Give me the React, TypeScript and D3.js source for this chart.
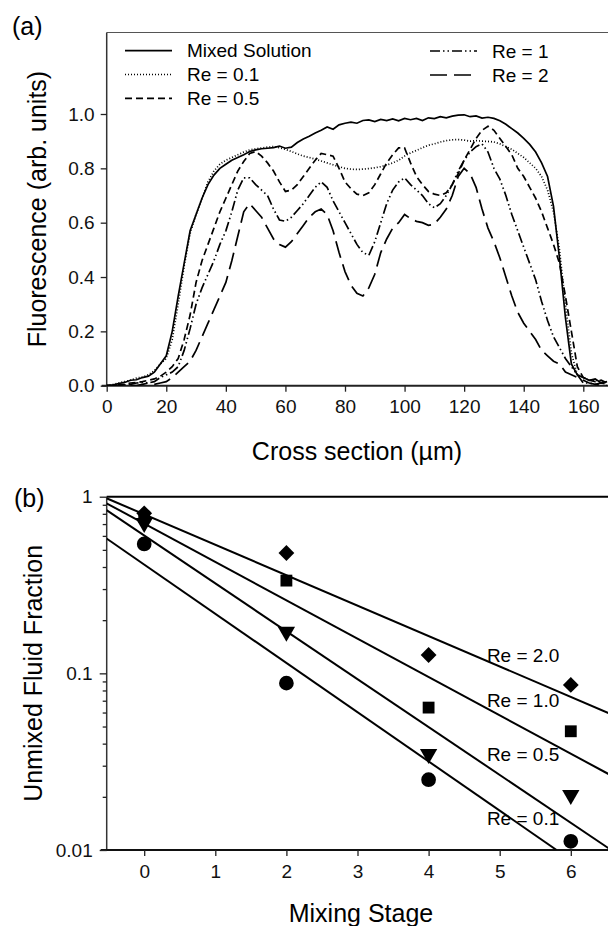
import React, { useEffect, useRef } from 'react';
import * as d3 from 'd3';

// ---- panel (a): fluorescence profiles, sampled every 2 um ----
const crossX = d3.range(0, 170, 2);

const mixedSolution = [
  0, 0.002, 0.008, 0.012, 0.02, 0.022, 0.03, 0.035, 0.05, 0.08,
  0.11, 0.2, 0.33, 0.45, 0.57, 0.63, 0.69, 0.74, 0.775, 0.8,
  0.815, 0.83, 0.84, 0.85, 0.862, 0.868, 0.872, 0.874, 0.876, 0.882,
  0.874, 0.878, 0.895, 0.908, 0.918, 0.93, 0.94, 0.952, 0.944, 0.96,
  0.966, 0.97, 0.966, 0.976, 0.978, 0.972, 0.98, 0.976, 0.982, 0.975,
  0.984, 0.979, 0.984, 0.976, 0.986, 0.983, 0.99, 0.986, 0.992, 0.996,
  0.997, 0.99, 0.993, 0.985, 0.988, 0.984, 0.975, 0.962, 0.946, 0.93,
  0.91, 0.888, 0.86, 0.82, 0.77, 0.66, 0.47, 0.25, 0.08, 0.04,
  0.03, 0.02, 0.025, 0.01, 0.015,
];
const re01 = [
  0, 0.004, 0.01, 0.015, 0.02, 0.028, 0.032, 0.04, 0.055, 0.08,
  0.1, 0.17, 0.3, 0.44, 0.56, 0.63, 0.69, 0.75, 0.79, 0.815,
  0.83, 0.84, 0.85, 0.86, 0.868, 0.872, 0.875, 0.878, 0.88, 0.876,
  0.87, 0.862, 0.853, 0.845, 0.84, 0.834, 0.827, 0.82, 0.813, 0.806,
  0.8, 0.797, 0.796, 0.797, 0.799, 0.802, 0.806, 0.812, 0.82, 0.83,
  0.845, 0.857, 0.866, 0.876, 0.885, 0.89, 0.897, 0.902, 0.905, 0.906,
  0.904, 0.9, 0.902, 0.9, 0.899, 0.897, 0.89, 0.88, 0.87, 0.855,
  0.84, 0.82, 0.8, 0.77, 0.72, 0.64, 0.5, 0.3, 0.12, 0.04,
  0.03, 0.02, 0.02, 0.015, 0.01,
];
const re05 = [
  0, 0, 0.003, 0.005, 0.01, 0.012, 0.015, 0.02, 0.025, 0.035,
  0.05, 0.07, 0.1, 0.17, 0.26, 0.38, 0.46, 0.52, 0.58, 0.64,
  0.69, 0.74, 0.79, 0.825, 0.855, 0.862, 0.845, 0.82, 0.79, 0.75,
  0.715, 0.72, 0.74, 0.77, 0.8, 0.83, 0.855, 0.85, 0.845, 0.8,
  0.75, 0.725, 0.705, 0.7, 0.71, 0.74, 0.78, 0.82, 0.85, 0.875,
  0.875, 0.82, 0.77, 0.74, 0.715, 0.705, 0.7, 0.71, 0.74, 0.78,
  0.83, 0.87, 0.91, 0.94, 0.955, 0.94, 0.91, 0.88, 0.85, 0.8,
  0.77, 0.73, 0.69, 0.64, 0.58, 0.52, 0.45, 0.33, 0.2, 0.07,
  0.03, 0.02, 0.015, 0.02, 0.01,
];
const re1 = [
  0, 0, 0, 0.003, 0.005, 0.01, 0.012, 0.01, 0.015, 0.03,
  0.04, 0.05, 0.07, 0.13, 0.21, 0.3, 0.36, 0.41, 0.46, 0.52,
  0.57, 0.64, 0.72, 0.765, 0.765, 0.74, 0.72, 0.7, 0.65, 0.61,
  0.605, 0.62, 0.645, 0.67, 0.7, 0.73, 0.75, 0.73, 0.68, 0.64,
  0.6, 0.56, 0.52, 0.49, 0.48, 0.53, 0.6, 0.67, 0.72, 0.75,
  0.765, 0.74, 0.72, 0.7, 0.67, 0.655, 0.67, 0.7, 0.74, 0.79,
  0.83, 0.86, 0.88, 0.89, 0.86, 0.8, 0.76, 0.7, 0.63, 0.57,
  0.51, 0.45, 0.39, 0.31, 0.24, 0.18, 0.14, 0.1, 0.07, 0.04,
  0.01, 0.01, 0.005, 0.01, 0.005,
];
const re2 = [
  0, 0, 0, 0, 0, 0, 0.005, 0.01, 0.005, 0.01,
  0.015, 0.03, 0.05, 0.07, 0.09, 0.13, 0.18, 0.23, 0.28, 0.33,
  0.38, 0.46, 0.55, 0.64, 0.67, 0.645, 0.62, 0.58, 0.54, 0.52,
  0.51, 0.53, 0.56, 0.59, 0.62, 0.64, 0.65, 0.63, 0.57, 0.49,
  0.42, 0.37, 0.34, 0.33, 0.36, 0.41, 0.49, 0.54, 0.58, 0.6,
  0.63, 0.615, 0.605, 0.6, 0.59, 0.595, 0.62, 0.65, 0.7, 0.77,
  0.8, 0.78, 0.73, 0.65, 0.58, 0.53, 0.47, 0.4, 0.33, 0.27,
  0.23, 0.2, 0.17, 0.13, 0.11, 0.09, 0.08, 0.05, 0.04, 0.03,
  0.02, 0.01, 0.005, 0, 0,
];

const profileNames = ['Mixed Solution', 'Re = 0.1', 'Re = 0.5', 'Re = 1', 'Re = 2'];
const profileValues = [mixedSolution, re01, re05, re1, re2];
const profileDash = ['none', '1,2', '7,4', '10,3,1.5,3,1.5,3', '17,7'];

const topYTicks = [0, 0.2, 0.4, 0.6, 0.8, 1.0];
const topXTicks = [0, 20, 40, 60, 80, 100, 120, 140, 160];

// ---- panel (b): unmixed fraction vs mixing stage ----
const stages = [0, 2, 4, 6];
const unmixedRe20 = [0.805, 0.48, 0.127, 0.086];
const unmixedRe10 = [0.77, 0.335, 0.064, 0.047];
const unmixedRe05 = [0.71, 0.172, 0.035, 0.0205];
const unmixedRe01 = [0.54, 0.088, 0.025, 0.0112];

const fitNames = ['Re = 2.0', 'Re = 1.0', 'Re = 0.5', 'Re = 0.1'];
const fitSymbols = [d3.symbolSquare, d3.symbolSquare, d3.symbolTriangle, d3.symbolCircle];
// fitted lines: [stage, fraction] at both ends
const fitStart = [[-0.53, 0.98], [-0.53, 0.918], [-0.53, 0.84], [-0.53, 0.58]];
const fitEnd = [[6.6, 0.058], [6.6, 0.026], [6.6, 0.0098], [5.8, 0.01]];
const fitLabelStage = 4.82;
const fitLabelValue = [0.127, 0.0706, 0.035, 0.0152];

const bottomXTicks = [0, 1, 2, 3, 4, 5, 6];

const FONT = "'Liberation Sans', Arial, Helvetica, sans-serif";

const App = () => {
  const ref = useRef<HTMLDivElement>(null);

  useEffect(() => {
    if (!ref.current) return;
    d3.select(ref.current).selectAll('*').remove();
    const svg = d3
      .select(ref.current)
      .append('svg')
      .attr('width', 608)
      .attr('height', 926)
      .style('font-family', FONT);

    // ===== panel (a) =====
    const xA = d3.scaleLinear().domain([0, 160]).range([106.7, 583.3]);
    const yA = d3.scaleLinear().domain([0, 1]).range([385.7, 114]);
    const topA = yA(1.3);

    svg.append('text').attr('x', 12).attr('y', 35).style('font-size', '25px').text('(a)');

    // frame top line and axes
    svg.append('line').attr('x1', xA(0)).attr('x2', 608).attr('y1', topA).attr('y2', topA)
      .attr('stroke', '#555').attr('stroke-width', 1.2);
    svg.append('line').attr('x1', xA(0)).attr('x2', xA(0)).attr('y1', topA).attr('y2', yA(0))
      .attr('stroke', '#333').attr('stroke-width', 1.5);
    svg.append('line').attr('x1', xA(0) - 5).attr('x2', 608).attr('y1', yA(0)).attr('y2', yA(0))
      .attr('stroke', '#222').attr('stroke-width', 2);

    const gyA = svg.append('g').attr('transform', `translate(${xA(0)},0)`)
      .call(d3.axisLeft(yA).tickValues(topYTicks).tickFormat(d3.format('.1f')).tickSize(6).tickSizeOuter(0).tickPadding(6));
    const gxA = svg.append('g').attr('transform', `translate(0,${yA(0)})`)
      .call(d3.axisBottom(xA).tickValues(topXTicks).tickFormat(d3.format('d')).tickSize(6).tickSizeOuter(0).tickPadding(8));
    [gyA, gxA].forEach(g => {
      g.select('.domain').remove();
      g.selectAll('line').attr('stroke', '#222').attr('stroke-width', 1.3);
      g.selectAll('text').style('font-size', '19px').style('font-family', FONT).attr('fill', '#111');
    });

    svg.append('text')
      .attr('transform', `translate(46,${(topA + yA(0)) / 2}) rotate(-90)`)
      .attr('text-anchor', 'middle')
      .style('font-size', '25px')
      .text('Fluorescence (arb. units)');
    svg.append('text')
      .attr('x', 357).attr('y', 460)
      .attr('text-anchor', 'middle')
      .style('font-size', '25px')
      .text('Cross section (\u00b5m)');

    const clipA = svg.append('clipPath').attr('id', 'clipA');
    clipA.append('rect').attr('x', xA(0)).attr('y', topA).attr('width', 608 - xA(0)).attr('height', yA(0) - topA);

    const line = d3.line<number>()
      .x((_, i) => xA(crossX[i]))
      .y(d => yA(d))
      .defined(d => d !== undefined);

    profileValues.forEach((vals, k) => {
      svg.append('path')
        .attr('clip-path', 'url(#clipA)')
        .attr('d', line(vals))
        .attr('fill', 'none')
        .attr('stroke', '#000')
        .attr('stroke-width', 1.7)
        .attr('stroke-dasharray', profileDash[k]);
    });

    // legend
    const legendPos = [
      [125, 50.7], [125, 74.5], [125, 98.3], [430, 51], [430, 75],
    ];
    profileNames.forEach((name, k) => {
      const [lx, ly] = legendPos[k];
      svg.append('line').attr('x1', lx).attr('x2', lx + 47).attr('y1', ly).attr('y2', ly)
        .attr('stroke', '#000').attr('stroke-width', 1.7).attr('stroke-dasharray', profileDash[k]);
      svg.append('text').attr('x', lx + 62).attr('y', ly).attr('dy', '0.35em')
        .style('font-size', '19px').text(name);
    });

    // ===== panel (b) =====
    const xB = d3.scaleLinear().domain([0, 6]).range([144.2, 570.8]);
    const yB = d3.scaleLog().domain([0.01, 1]).range([850, 496.7]);
    const leftB = 106.7;

    svg.append('text').attr('x', 14).attr('y', 507).style('font-size', '25px').text('(b)');

    svg.append('line').attr('x1', leftB).attr('x2', 608).attr('y1', yB(1)).attr('y2', yB(1))
      .attr('stroke', '#000').attr('stroke-width', 2);
    svg.append('line').attr('x1', leftB).attr('x2', leftB).attr('y1', yB(1)).attr('y2', yB(0.01))
      .attr('stroke', '#333').attr('stroke-width', 1.5);
    svg.append('line').attr('x1', leftB - 6).attr('x2', 608).attr('y1', yB(0.01)).attr('y2', yB(0.01))
      .attr('stroke', '#111').attr('stroke-width', 2);

    const majorB = [0.01, 0.1, 1];
    const minorB = d3.range(2, 10).flatMap(m => [m * 0.01, m * 0.1]);
    const gyB = svg.append('g').attr('transform', `translate(${leftB},0)`)
      .call(d3.axisLeft(yB).tickValues(majorB).tickFormat(d => String(d)).tickSize(7).tickSizeOuter(0).tickPadding(7));
    svg.append('g').attr('transform', `translate(${leftB},0)`)
      .call(d3.axisLeft(yB).tickValues(minorB).tickFormat(() => '').tickSize(4).tickSizeOuter(0))
      .call(g => g.select('.domain').remove())
      .selectAll('line').attr('stroke', '#222').attr('stroke-width', 1.3);
    const gxB = svg.append('g').attr('transform', `translate(0,${yB(0.01)})`)
      .call(d3.axisBottom(xB).tickValues(bottomXTicks).tickFormat(d3.format('d')).tickSize(6).tickSizeOuter(0).tickPadding(9));
    [gyB, gxB].forEach(g => {
      g.select('.domain').remove();
      g.selectAll('line').attr('stroke', '#222').attr('stroke-width', 1.3);
      g.selectAll('text').style('font-size', '19px').style('font-family', FONT).attr('fill', '#111');
    });

    svg.append('text')
      .attr('transform', `translate(42,${(yB(1) + yB(0.01)) / 2}) rotate(-90)`)
      .attr('text-anchor', 'middle')
      .style('font-size', '25px')
      .text('Unmixed Fluid Fraction');
    svg.append('text')
      .attr('x', 361).attr('y', 922)
      .attr('text-anchor', 'middle')
      .style('font-size', '25px')
      .text('Mixing Stage');

    const clipB = svg.append('clipPath').attr('id', 'clipB');
    clipB.append('rect').attr('x', leftB).attr('y', yB(1)).attr('width', 608 - leftB).attr('height', yB(0.01) - yB(1));

    fitStart.forEach((s, k) => {
      const e = fitEnd[k];
      svg.append('line')
        .attr('clip-path', 'url(#clipB)')
        .attr('x1', xB(s[0])).attr('y1', yB(s[1]))
        .attr('x2', xB(e[0])).attr('y2', yB(e[1]))
        .attr('stroke', '#000').attr('stroke-width', 2);
    });

    const seriesB = [unmixedRe20, unmixedRe10, unmixedRe05, unmixedRe01];
    const symbolSize = [125, 140, 130, 170];
    seriesB.forEach((vals, k) => {
      const sym = d3.symbol().type(fitSymbols[k]).size(symbolSize[k]);
      svg.append('g').selectAll('path')
        .data(vals)
        .join('path')
        .attr('transform', (d, i) => {
          // diamonds are squares turned by 45 degrees, triangles point down
          const rot = k === 0 ? ' rotate(45)' : k === 2 ? ' rotate(180)' : '';
          return `translate(${xB(stages[i])},${yB(d)})${rot}`;
        })
        .attr('d', sym() as string)
        .attr('fill', '#000');
    });

    fitNames.forEach((name, k) => {
      svg.append('text')
        .attr('x', xB(fitLabelStage)).attr('y', yB(fitLabelValue[k]))
        .attr('dy', '0.35em')
        .style('font-size', '19px')
        .text(name);
    });
  }, []);

  return <div ref={ref} style={{ position: 'absolute', left: 0, top: 0, background: '#fff' }} />;
};

export default App;
